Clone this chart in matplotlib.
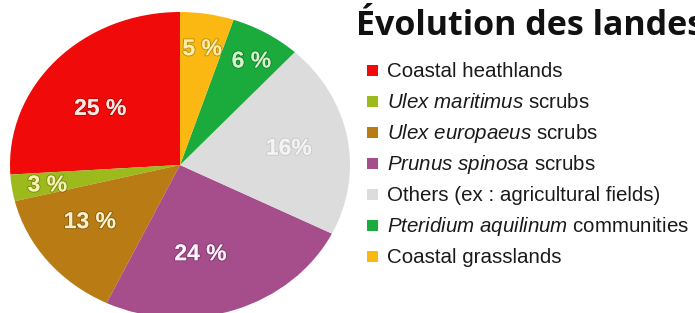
import matplotlib
matplotlib.use('Agg')
import matplotlib.pyplot as plt
import matplotlib.patheffects as pe
from matplotlib.patches import Rectangle

# wedge shares as drawn, and the printed labels
categories = [
    'Coastal heathlands',
    r'$\mathit{Ulex\ maritimus}$ scrubs',
    r'$\mathit{Ulex\ europaeus}$ scrubs',
    r'$\mathit{Prunus\ spinosa}$ scrubs',
    'Others (ex : agricultural fields)',
    r'$\mathit{Pteridium\ aquilinum}$ communities',
    'Coastal grasslands',
]
shares = [26.0, 2.8, 14.1, 24.7, 20.6, 6.7, 5.1]
pct_labels = ['25 %', '3 %', '13 %', '24 %', '16%', '6 %', '5 %']

colors = ['#f00a0a', '#9cba1c', '#b97c14', '#a64d8c', '#dcdcdc', '#1aab3c', '#fbb812']
label_colors = ['#ffe9e0', '#f7f2b0', '#fcf0c8', '#fff0ff', '#f4f4f4', '#d2f2c8', '#fff0a8']
# label centres inside the (elliptic) pie, in axes data units
label_xy = [(-0.47, 0.37), (-0.78, -0.13), (-0.53, -0.37), (0.12, -0.58),
            (0.64, 0.11), (0.42, 0.68), (0.13, 0.76)]

plt.rcParams['mathtext.fontset'] = 'custom'
plt.rcParams['mathtext.rm'] = 'Liberation Sans'
plt.rcParams['mathtext.it'] = 'Liberation Sans:italic'

W, H = 695, 313
fig = plt.figure(figsize=(W / 100, H / 100), dpi=100)

# pie is slightly wider than tall: centre (180, 165), radii 170 x 153 px
cx, cy, rx, ry = 180, 165, 170, 153
ax = fig.add_axes([(cx - rx) / W, (H - cy - ry) / H, 2 * rx / W, 2 * ry / H])
wedges, _ = ax.pie(shares, colors=colors, startangle=90, counterclock=True,
                   wedgeprops=dict(linewidth=0))
ax.set_aspect('auto')
ax.set_xlim(-1, 1)
ax.set_ylim(-1, 1)
ax.axis('off')

for i, ((x, y), txt, c) in enumerate(zip(label_xy, pct_labels, label_colors)):
    shade = 0.08 if i == 4 else 0.22
    ax.text(x, y, txt, ha='center', va='center', fontsize=16.5, fontweight='bold',
            family='Liberation Sans', color=c,
            path_effects=[pe.withStroke(linewidth=1.5, foreground=(0, 0, 0, shade))])

# title (cut off by the right edge in the original)
fig.text(356 / W, 1 - 35 / H, 'Évolution des landes', fontsize=24.5, fontweight='bold',
         family='Open Sans', color='#111111', va='baseline', ha='left')

# legend drawn by hand
base0, step = 77, 31
for i, (lab, c) in enumerate(zip(categories, colors)):
    b = base0 + i * step
    fig.patches.append(Rectangle((367 / W, 1 - (b - 1) / H), 11 / W, 11 / H,
                                 transform=fig.transFigure, color=c, linewidth=0))
    fig.text(387 / W, 1 - b / H, lab, fontsize=14.8, family='Liberation Sans',
             color='#1a1a1a', va='baseline', ha='left')

fig.savefig('out.png', dpi=100)
